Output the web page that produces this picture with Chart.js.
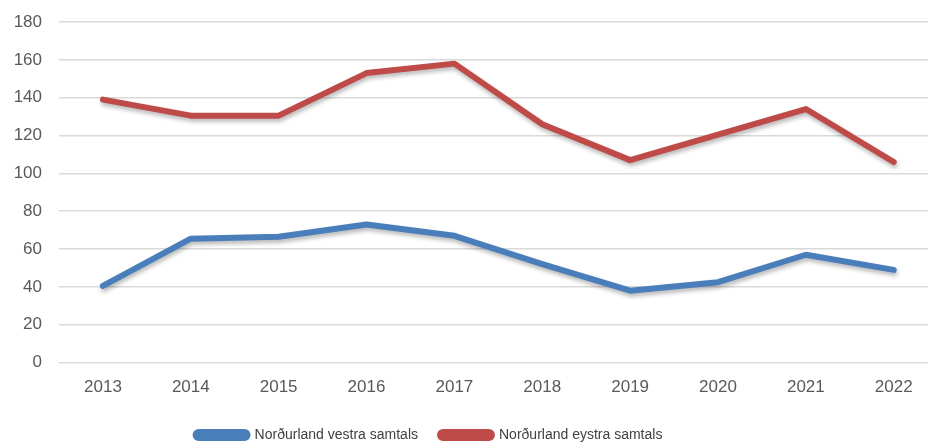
<!DOCTYPE html>
<html>
<head>
<meta charset="utf-8">
<script src="https://cdn.jsdelivr.net/npm/chart.js@4/dist/chart.umd.min.js"></script>
<style>
html,body{margin:0;padding:0;background:#fff;overflow:hidden;}
#wrap{width:928px;height:444px;position:relative;}
</style>
</head>
<body>
<div id="wrap"><canvas id="c"></canvas></div>
<script>
const years = [2013, 2014, 2015, 2016, 2017, 2018, 2019, 2020, 2021, 2022];
const vestra = [40.5, 65.5, 66.5, 73, 67, 52, 38, 42.5, 57, 49];
const eystra = [139, 130.5, 130.5, 153, 158, 126, 107, 120.5, 134, 106];
const seriesNames = ['Norðurland vestra samtals', 'Norðurland eystra samtals'];
const yTicks = [0, 20, 40, 60, 80, 100, 120, 140, 160, 180];

const FONT = "'Liberation Sans', Arial, sans-serif";

const shadowPlugin = {
  id: 'shadow',
  beforeDatasetDraw(chart) {
    const ctx = chart.ctx;
    ctx.save();
    ctx.shadowColor = 'rgba(0,0,0,0.28)';
    ctx.shadowBlur = 4;
    ctx.shadowOffsetX = 1;
    ctx.shadowOffsetY = 3;
  },
  afterDatasetDraw(chart) {
    chart.ctx.restore();
  }
};

const legendShift = {
  id: 'legendShift',
  afterLayout(chart) {
    const l = chart.legend;
    if (l) { l.left -= 35; l.right -= 35; }
  }
};

new Chart(document.getElementById('c'), {
  type: 'line',
  data: {
    datasets: [
      {
        label: seriesNames[0],
        data: years.map((y, i) => ({x: y, y: vestra[i]})),
        borderColor: '#4A7EBB',
        backgroundColor: '#4A7EBB',
        borderWidth: 6,
        pointRadius: 0,
        borderCapStyle: 'round',
        borderJoinStyle: 'round',
        tension: 0
      },
      {
        label: seriesNames[1],
        data: years.map((y, i) => ({x: y, y: eystra[i]})),
        borderColor: '#BE4B48',
        backgroundColor: '#BE4B48',
        borderWidth: 6,
        pointRadius: 0,
        borderCapStyle: 'round',
        borderJoinStyle: 'round',
        tension: 0
      }
    ]
  },
  options: {
    responsive: true,
    maintainAspectRatio: false,
    animation: false,
    layout: { padding: { top: 22, left: 0, right: 0, bottom: -8 } },
    plugins: {
      tooltip: { enabled: false },
      legend: {
        position: 'bottom',
        labels: {
          boxWidth: 52,
          boxHeight: 6,
          useBorderRadius: true,
          borderRadius: 3,
          padding: 22,
          color: '#404040',
          font: { family: FONT, size: 14 }
        }
      }
    },
    scales: {
      x: {
        type: 'linear',
        min: 2012.5,
        max: 2022.39,
        afterBuildTicks(scale) {
          scale.ticks = years.map(v => ({ value: v }));
        },
        afterFit(scale) { scale.height -= 7; },
        grid: { display: false, drawTicks: false },
        border: { display: false },
        ticks: {
          padding: 15,
          color: '#595959',
          font: { family: FONT, size: 17 },
          callback: v => String(v),
          maxRotation: 0,
          autoSkip: false
        }
      },
      y: {
        min: 0,
        max: 180,
        afterBuildTicks(scale) {
          scale.ticks = yTicks.map(v => ({ value: v }));
        },
        afterFit(scale) { scale.width = 59; scale.paddingTop = 0; scale.paddingBottom = 0; },
        grid: { color: '#D9D9D9', lineWidth: 1.5, drawTicks: false },
        border: { display: false },
        ticks: {
          padding: 17,
          color: '#595959',
          font: { family: FONT, size: 17 }
        }
      }
    }
  },
  plugins: [shadowPlugin, legendShift]
});
</script>
</body>
</html>
